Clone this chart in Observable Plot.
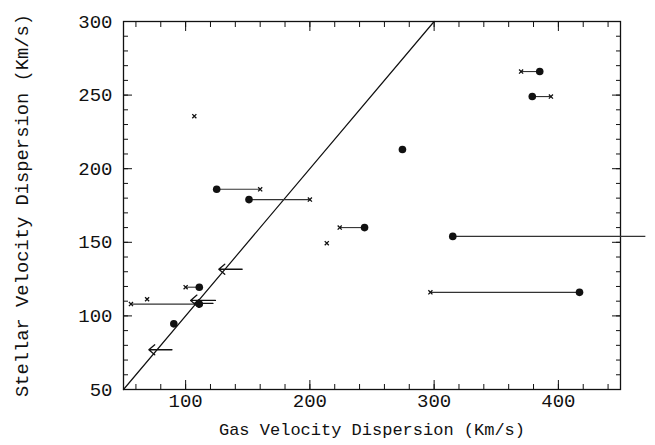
<!DOCTYPE html>
<html>
<head>
<meta charset="utf-8">
<script src="https://cdn.jsdelivr.net/npm/d3@7"></script>
<script src="https://cdn.jsdelivr.net/npm/@observablehq/plot@0.6"></script>
<style>
  html, body { margin: 0; padding: 0; background: #fff; }
</style>
</head>
<body>
<div id="chart"></div>
<script>
// ---- data ----
// galaxies with two gas measurements: filled dot and cross at the same stellar sigma
const pairStar     = [266, 249, 186, 179, 160, 154, 116, 119.5, 108];
const pairGasDot   = [385, 379, 125, 151, 244, 315, 417, 111,   111];
const pairGasCross = [370, 394, 160, 200, 224, 470, 297, 100,   56];
// single filled dots
const dotGas  = [274.5, 90.5];
const dotStar = [213,   94.6];
// single crosses
const crossGas  = [107,   213.6, 69];
const crossStar = [235.7, 149.4, 111.3];
// upper limits (arrows pointing left)
const limTail = [145.5, 124,   122,   89];
const limHead = [126.7, 104,   107,   70.4];
const limStar = [131.7, 110.5, 108.5, 77];
// one-to-one line
const diag = [50, 300];
// axes
const xTickLabels = [100, 200, 300, 400];
const yTickLabels = [50, 100, 150, 200, 250, 300];
const xMinor = d3.range(60, 451, 20);
const yMinor = d3.range(60, 300, 10);
const xLabel = "Gas Velocity Dispersion (Km/s)";
const yLabel = "Stellar Velocity Dispersion (Km/s)";

const pairs = pairStar.map((s, i) => ({s, d: pairGasDot[i], c: pairGasCross[i]}));
const dots = dotGas.map((g, i) => ({g, s: dotStar[i]}));
const crosses = crossGas.map((g, i) => ({g, s: crossStar[i]}))
  .concat(pairs.filter(p => p.c <= 450).map(p => ({g: p.c, s: p.s})));
const allDots = dots.concat(pairs.map(p => ({g: p.d, s: p.s})));
const limits = limStar.map((s, i) => ({s, t: limTail[i], h: limHead[i]}));

const ink = "#111";
const minorSize = -5, majorSize = -9;

const chart = Plot.plot({
  width: 655,
  height: 445,
  marginLeft: 123,
  marginRight: 35,
  marginTop: 21,
  marginBottom: 56,
  style: {fontFamily: "Liberation Mono", background: "#fff", color: ink},
  x: {domain: [50, 450]},
  y: {domain: [50, 300]},
  marks: [
    // minor ticks on all four sides (inward)
    Plot.axisX(xMinor, {anchor: "bottom", tickSize: minorSize, tickFormat: () => "", label: null, stroke: ink}),
    Plot.axisX(xMinor, {anchor: "top", tickSize: minorSize, tickFormat: () => "", label: null, stroke: ink}),
    Plot.axisY(yMinor, {anchor: "left", tickSize: minorSize, tickFormat: () => "", label: null, stroke: ink}),
    Plot.axisY(yMinor, {anchor: "right", tickSize: minorSize, tickFormat: () => "", label: null, stroke: ink}),
    // major ticks
    Plot.axisX(xTickLabels, {anchor: "bottom", tickSize: majorSize, tickFormat: () => "", label: null, stroke: ink}),
    Plot.axisX(xTickLabels, {anchor: "top", tickSize: majorSize, tickFormat: () => "", label: null, stroke: ink}),
    Plot.axisY(yTickLabels, {anchor: "left", tickSize: majorSize, tickFormat: () => "", label: null, stroke: ink}),
    Plot.axisY(yTickLabels, {anchor: "right", tickSize: majorSize, tickFormat: () => "", label: null, stroke: ink}),
    // tick labels
    Plot.axisX(xTickLabels, {anchor: "bottom", tickSize: 0, tickPadding: 4, fontSize: 19, label: null, fill: ink, stroke: null}),
    Plot.axisY(yTickLabels, {anchor: "left", tickSize: 0, tickPadding: 11, fontSize: 19, label: null, fill: ink, stroke: null}),
    Plot.frame({stroke: ink, strokeWidth: 1.3}),
    // axis titles
    Plot.text([xLabel], {frameAnchor: "bottom", lineAnchor: "middle", textAnchor: "middle", dy: 40, text: d => d, fontSize: 17, fill: ink}),
    Plot.text([yLabel], {frameAnchor: "left", lineAnchor: "middle", textAnchor: "middle", dx: -102, rotate: -90, text: d => d, fontSize: 18.8, fill: ink}),
    // one-to-one line
    Plot.line(diag, {x: d => d, y: d => d, stroke: ink, strokeWidth: 1.2}),
    // connecting segments
    Plot.link(pairs, {x1: "d", x2: "c", y1: "s", y2: "s", stroke: "#333", strokeWidth: 1.1}),
    // upper limit arrows
    Plot.arrow(limits, {x1: "t", x2: "h", y1: "s", y2: "s", stroke: ink, strokeWidth: 1.3, headLength: 13, headAngle: 80}),
    // markers
    Plot.dot(crosses, {x: "g", y: "s", symbol: "times", r: 2, stroke: ink, strokeWidth: 1.3}),
    Plot.dot(allDots, {x: "g", y: "s", r: 3.8, fill: ink, stroke: "none"})
  ]
});
document.getElementById("chart").appendChild(chart);
</script>
</body>
</html>
